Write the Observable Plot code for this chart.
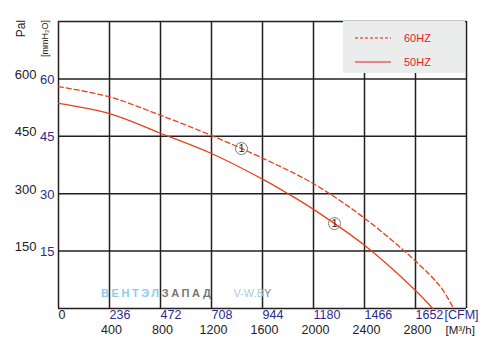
<!DOCTYPE html>
<html>
<head>
<meta charset="utf-8">
<script src="https://cdn.jsdelivr.net/npm/d3@7"></script>
<script src="https://cdn.jsdelivr.net/npm/@observablehq/plot@0.6"></script>
<style>
  html, body { margin: 0; padding: 0; background: #fff; }
  #wrap { position: relative; width: 489px; height: 357px; font-family: "Liberation Sans", Arial, sans-serif; }
  #legend { position: absolute; left: 343px; top: 21px; width: 122px; height: 52px; background: #ebedec; }
  #legend .lbl { position: absolute; left: 61px; font-size: 11px; color: #e8191f; line-height: 14px; }
  #wm { position: absolute; top: 286px; left: 101px; font-size: 11px; font-weight: bold; white-space: nowrap; line-height: 14px; }
</style>
</head>
<body>
<div id="wrap"></div>
<script>
// Airflow ticks [m³/h] and their CFM equivalents
const m3hTicks = [0, 400, 800, 1200, 1600, 2000, 2400, 2800, 3200];
const m3hLabels = [400, 800, 1200, 1600, 2000, 2400, 2800];
const cfmLabels = ["0", "236", "472", "708", "944", "1180", "1466", "1652"];
// Pressure ticks [Pa] and [mmH2O]
const paGrid = [0, 150, 300, 450, 600, 750];
const paLabels = [150, 300, 450, 600];
const mmLabels = [15, 30, 45, 60];

// 60 Hz curve (dashed)
const flow60 = [0, 400, 800, 1200, 1600, 2000, 2400, 2800, 3000, 3098];
const pa60   = [580, 553, 505, 452, 393, 326, 236, 124, 55, 0];
// 50 Hz curve (solid)
const flow50 = [0, 400, 800, 1200, 1600, 1800, 2000, 2400, 2800, 2935];
const pa50   = [536, 509, 458, 405, 338, 300, 259, 165, 47, 0];

// circled "1" markers
const markerFlow = [1435, 2165];
const markerPa   = [418, 222];

const curveColor = "#e8401c";
const gridColor = "#231f20";
const blue = "#2b2a8c";
const black = "#222";

const d60 = flow60.map((f, i) => ({flow: f, pa: pa60[i]}));
const d50 = flow50.map((f, i) => ({flow: f, pa: pa50[i]}));
const markers = markerFlow.map((f, i) => ({flow: f, pa: markerPa[i]}));

const chart = Plot.plot({
  width: 489,
  height: 357,
  marginLeft: 58,
  marginRight: 23,
  marginTop: 21,
  marginBottom: 49,
  x: {domain: [0, 3200], axis: null},
  y: {domain: [0, 750], axis: null},
  style: {fontFamily: "Liberation Sans, Arial, sans-serif", background: "transparent"},
  marks: [
    Plot.ruleX(m3hTicks, {x: d => d, stroke: gridColor, strokeWidth: 1.5}),
    Plot.ruleY(paGrid, {y: d => d, stroke: gridColor, strokeWidth: 1.5}),
    Plot.line(d60, {x: "flow", y: "pa", stroke: curveColor, strokeWidth: 1.3, strokeDasharray: "5,3", curve: "catmull-rom"}),
    Plot.line(d50, {x: "flow", y: "pa", stroke: curveColor, strokeWidth: 1.3, curve: "catmull-rom"}),
    Plot.dot(markers, {x: "flow", y: "pa", r: 6, stroke: "#7a7a7a", strokeWidth: 1, fill: "none"}),
    Plot.text(markers, {x: "flow", y: "pa", text: () => "1", fontSize: 11, fill: black}),
    // Y labels
    Plot.text(paLabels, {y: d => d, text: d => String(d), frameAnchor: "left", textAnchor: "end", dx: -22, dy: -4, fontSize: 13, fill: black}),
    Plot.text(mmLabels, {y: d => d * 10, text: d => String(d), frameAnchor: "left", textAnchor: "end", dx: -4, dy: 1, fontSize: 13, fill: blue}),
    Plot.text(["Pal"], {frameAnchor: "top-left", textAnchor: "middle", lineAnchor: "middle", dx: -37, dy: 7, rotate: -90, fontSize: 12, fill: black}),
    Plot.text(["[mmH₂O]"], {frameAnchor: "top-left", textAnchor: "middle", lineAnchor: "middle", dx: -13, dy: 17, rotate: -90, fontSize: 9, fill: black}),
    // X labels
    Plot.text(cfmLabels, {x: (d, i) => m3hTicks[i], text: d => d, frameAnchor: "bottom", textAnchor: "start", dx: 0, dy: 10, fontSize: 12.5, fill: (d, i) => i === 0 ? black : blue}),
    Plot.text(m3hLabels, {x: d => d, text: d => String(d), frameAnchor: "bottom", textAnchor: "middle", dx: 2, dy: 25, fontSize: 12.5, fill: black}),
    Plot.text(["[CFM]"], {frameAnchor: "bottom-right", textAnchor: "start", dx: -22, dy: 10, fontSize: 12.5, fill: blue}),
    Plot.text(["[M³/h]"], {frameAnchor: "bottom-right", textAnchor: "start", dx: -21, dy: 25, fontSize: 11.5, fill: black})
  ]
});
const wrap = document.getElementById("wrap");
wrap.appendChild(chart);

// Legend overlay
const legend = document.createElement("div");
legend.id = "legend";
legend.innerHTML = `
  <svg width="122" height="52" style="position:absolute;left:0;top:0">
    <line x1="12" x2="48" y1="17" y2="17" stroke="#e8191f" stroke-width="1.2" stroke-dasharray="3,2"/>
    <line x1="12" x2="48" y1="41" y2="41" stroke="#e8191f" stroke-width="1.2"/>
  </svg>
  <div class="lbl" style="top:10px">60HZ</div>
  <div class="lbl" style="top:34px">50HZ</div>`;
wrap.appendChild(legend);

// Watermark
const wm = document.createElement("div");
wm.id = "wm";
wm.innerHTML = `<span style="color:#8ecbf0;letter-spacing:2.6px">ВЕНТЭЛ</span><span style="color:#777;letter-spacing:2.6px">ЗАПАД</span><span style="color:#a9cbe6;font-weight:normal;margin-left:20px">V-W.B</span><span style="color:#888;font-weight:normal">Y</span>`;
wrap.appendChild(wm);
</script>
</body>
</html>
